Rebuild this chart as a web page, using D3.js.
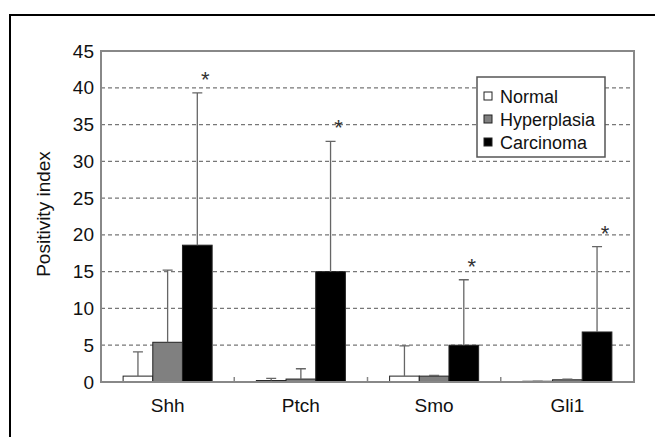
<!doctype html>
<html lang="en">
<head>
  <meta charset="utf-8">
  <title>Positivity index</title>
  <style>
    body { margin:0; background:#fff; }
    svg text { font-family: "Liberation Sans", Arial, sans-serif; fill:#111; }
  </style>
</head>
<body>
  <svg id="chart" width="655" height="437"></svg>

<script src="https://cdn.jsdelivr.net/npm/d3@7"></script>
<script>
var categories = ["Shh", "Ptch", "Smo", "Gli1"];
var series = ["Normal", "Hyperplasia", "Carcinoma"];
var normal = [0.8, 0.2, 0.8, 0.1];
var hyperplasia = [5.4, 0.4, 0.8, 0.3];
var carcinoma = [18.6, 15.0, 5.0, 6.8];
// upper error bar lengths
var normalSd = [3.3, 0.3, 4.1, 0];
var hyperplasiaSd = [9.8, 1.4, 0.1, 0.1];
var carcinomaSd = [20.7, 17.7, 8.9, 11.6];
var yTicks = [0, 5, 10, 15, 20, 25, 30, 35, 40, 45];
var colors = ["#ffffff", "#808080", "#000000"];

var values = [normal, hyperplasia, carcinoma];
var sds = [normalSd, hyperplasiaSd, carcinomaSd];

var svg = d3.select("#chart");
var margin = {left: 101, right: 21, top: 51, bottom: 55};
var W = 655 - margin.left - margin.right, H = 437 - margin.top - margin.bottom;

// outer frame (only top/left visible)
svg.append("rect").attr("x", 10).attr("y", 15).attr("width", 700).attr("height", 500)
  .attr("fill", "none").attr("stroke", "#000").attr("stroke-width", 2);

var g = svg.append("g").attr("transform", "translate(" + margin.left + "," + margin.top + ")");

var y = d3.scaleLinear().domain([0, 45]).range([H, 0]);
var x0 = d3.scaleBand().domain(categories).range([0, W]);
var x1 = d3.scaleBand().domain(series).range([0, x0.bandwidth()]).paddingOuter(0.745);

// grid
g.selectAll(".grid").data(yTicks.filter(function(d){ return d > 0 && d < 45; }))
  .enter().append("line")
  .attr("x1", 0).attr("x2", W)
  .attr("y1", function(d){ return y(d); }).attr("y2", function(d){ return y(d); })
  .attr("stroke", "#777").attr("stroke-width", 1.3).attr("stroke-dasharray", "4,3");

// bars
series.forEach(function(s, si) {
  var grp = g.append("g");
  grp.selectAll("rect").data(categories).enter().append("rect")
    .attr("x", function(c){ return x0(c) + x1(s); })
    .attr("width", x1.bandwidth())
    .attr("y", function(c, i){ return y(values[si][i]); })
    .attr("height", function(c, i){ return H - y(values[si][i]); })
    .attr("fill", colors[si]).attr("stroke", "#222").attr("stroke-width", 1);

  // error bars
  grp.selectAll("path").data(categories).enter().append("path")
    .attr("d", function(c, i) {
      var cx = x0(c) + x1(s) + x1.bandwidth() / 2;
      var top = y(values[si][i] + sds[si][i]), base = y(values[si][i]);
      return "M" + cx + "," + base + "V" + top + "M" + (cx - 5) + "," + top + "H" + (cx + 5);
    })
    .attr("stroke", "#666").attr("stroke-width", 1.3).attr("fill", "none");
});

// significance stars above carcinoma
g.selectAll(".star").data(categories).enter().append("text")
  .attr("x", function(c){ return x0(c) + x1("Carcinoma") + x1.bandwidth() / 2 + 8; })
  .attr("y", function(c, i){ return y(carcinoma[i] + carcinomaSd[i]) - 6; })
  .attr("text-anchor", "middle").style("font-size", "22px").style("fill", "#333")
  .text("*");

// plot frame
g.append("rect").attr("width", W).attr("height", H)
  .attr("fill", "none").attr("stroke", "#888").attr("stroke-width", 2);

// y axis
var yAxis = g.append("g").call(d3.axisLeft(y).tickValues(yTicks).tickSize(0).tickPadding(7));
yAxis.select(".domain").remove();
yAxis.selectAll("text").style("font-size", "19px").style("font-family", "Liberation Sans, Arial, sans-serif").attr("fill", "#111");

// x axis ticks between categories
g.selectAll(".xt").data(categories.slice(1)).enter().append("line")
  .attr("x1", function(c){ return x0(c); }).attr("x2", function(c){ return x0(c); })
  .attr("y1", H).attr("y2", H - 5).attr("stroke", "#888").attr("stroke-width", 1.5);

var xAxis = g.append("g").attr("transform", "translate(0," + H + ")")
  .call(d3.axisBottom(x0).tickSize(0).tickPadding(17));
xAxis.select(".domain").remove();
xAxis.selectAll("text").style("font-size", "19px").style("font-family", "Liberation Sans, Arial, sans-serif").attr("fill", "#111");

// y title
svg.append("text").attr("transform", "translate(50,214) rotate(-90)")
  .attr("text-anchor", "middle").style("font-size", "19px").text("Positivity index");

// legend
var lg = svg.append("g").attr("transform", "translate(477,77)");
lg.append("rect").attr("width", 128).attr("height", 80)
  .attr("fill", "#fff").attr("stroke", "#555").attr("stroke-width", 1.5);
series.forEach(function(s, i) {
  var row = lg.append("g").attr("transform", "translate(7," + (20 + i * 23) + ")");
  row.append("rect").attr("x", 0).attr("y", -5).attr("width", 8).attr("height", 8)
    .attr("fill", colors[i]).attr("stroke", "#222").attr("stroke-width", 1);
  row.append("text").attr("x", 16).attr("y", 6).style("font-size", "18px").text(s);
});
</script>
</body>
</html>
